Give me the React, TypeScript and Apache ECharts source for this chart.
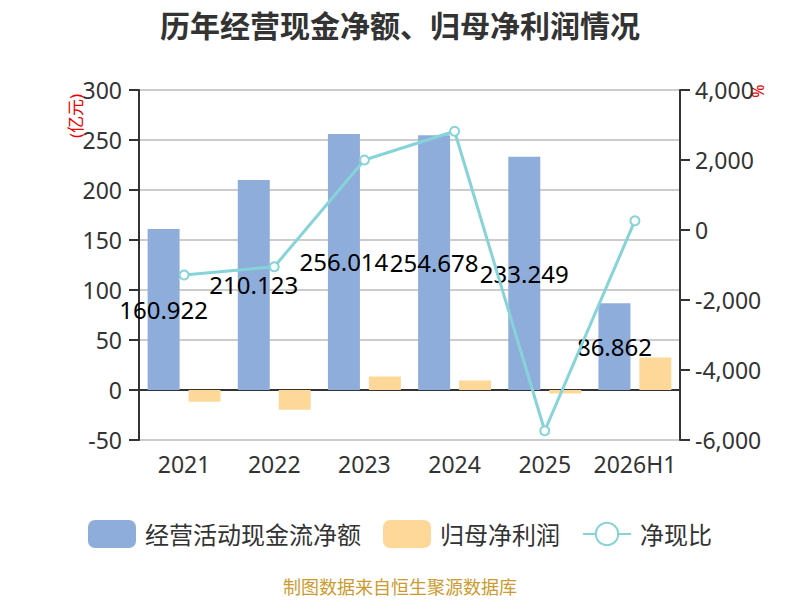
import React, { useEffect, useRef } from 'react';
import * as echarts from 'echarts';

const years = ['2021', '2022', '2023', '2024', '2025', '2026H1'];
const cashFlow = [160.922, 210.123, 256.014, 254.678, 233.249, 86.862];
const netProfit = [-11.7, -19.7, 13.6, 9.6, -3.4, 32.5];
const cashRatio = [-1286, -1050, 2000, 2820, -5735, 266];

const FONT = '"Noto Sans", "Noto Sans CJK SC", sans-serif';

const App: React.FC = () => {
  const chartRef = useRef<HTMLDivElement>(null);

  useEffect(() => {
    if (!chartRef.current) return;
    document.body.style.margin = '0';
    const chart = echarts.init(chartRef.current, undefined, { renderer: 'svg' });

    chart.setOption({
      animation: false,
      textStyle: { fontFamily: FONT },
      title: {
        text: '历年经营现金净额、归母净利润情况',
        left: 'center',
        top: 5,
        textStyle: { fontSize: 30, fontWeight: 'bold', color: '#333', fontFamily: FONT },
      },
      legend: {
        bottom: 47,
        left: 'center',
        itemWidth: 48,
        itemHeight: 28,
        itemGap: 22,
        textStyle: { fontSize: 24, color: '#333', fontFamily: FONT, padding: [0, 0, 0, 4] },
        data: [
          { name: '经营活动现金流净额', icon: 'roundRect' },
          { name: '归母净利润', icon: 'roundRect' },
          { name: '净现比' },
        ],
      },
      grid: { left: 139, right: 120, top: 90, bottom: 160 },
      xAxis: {
        type: 'category',
        data: years,
        axisLine: { lineStyle: { color: '#333', width: 2 } },
        axisTick: { length: 8, lineStyle: { color: '#333', width: 2 } },
        axisLabel: { fontSize: 23, color: '#333', margin: 12, interval: 0 },
      },
      yAxis: [
        {
          type: 'value',
          min: -50,
          max: 300,
          interval: 50,
          axisLine: { show: true, lineStyle: { color: '#333', width: 2 } },
          axisTick: { show: true, length: 10, lineStyle: { color: '#333', width: 2 } },
          axisLabel: { fontSize: 23, color: '#333', margin: 17 },
          splitLine: { lineStyle: { color: '#ccc', width: 2 } },
        },
        {
          type: 'value',
          min: -6000,
          max: 4000,
          interval: 2000,
          axisLine: { show: true, lineStyle: { color: '#333', width: 2 } },
          axisTick: { show: true, length: 10, lineStyle: { color: '#333', width: 2 } },
          axisLabel: { fontSize: 23, color: '#333', margin: 15 },
          splitLine: { show: false },
        },
      ],
      graphic: [
        {
          type: 'text',
          x: 75,
          y: 116,
          rotation: Math.PI / 2,
          style: {
            text: '(亿元)',
            fill: '#e00',
            fontSize: 17,
            fontFamily: FONT,
            textAlign: 'center',
            textVerticalAlign: 'middle',
          },
        },
        {
          type: 'text',
          x: 758,
          y: 91,
          rotation: Math.PI / 2,
          style: {
            text: '%',
            fill: '#e00',
            fontSize: 16,
            fontFamily: FONT,
            textAlign: 'center',
            textVerticalAlign: 'middle',
          },
        },
        {
          type: 'text',
          left: 'center',
          top: 578,
          style: {
            text: '制图数据来自恒生聚源数据库',
            fill: '#cc9a2e',
            fontSize: 18,
            fontFamily: FONT,
          },
        },
      ],
      series: [
        {
          name: '经营活动现金流净额',
          type: 'bar',
          data: cashFlow,
          barWidth: 32,
          barGap: '28%',
          itemStyle: { color: '#8eaddb' },
          label: {
            show: true,
            position: 'inside',
            color: '#000',
            fontSize: 24,
            fontFamily: FONT,
          },
        },
        {
          name: '归母净利润',
          type: 'bar',
          data: netProfit,
          barWidth: 32,
          itemStyle: { color: '#fed899' },
        },
        {
          name: '净现比',
          type: 'line',
          yAxisIndex: 1,
          data: cashRatio,
          symbol: 'emptyCircle',
          symbolSize: 9,
          lineStyle: { color: '#86d3d8', width: 3 },
          itemStyle: { color: '#86d3d8', borderWidth: 2 },
          z: 5,
        },
      ],
    });

    return () => {
      chart.dispose();
    };
  }, []);

  return <div ref={chartRef} style={{ width: '800px', height: '600px' }} />;
};

export default App;
